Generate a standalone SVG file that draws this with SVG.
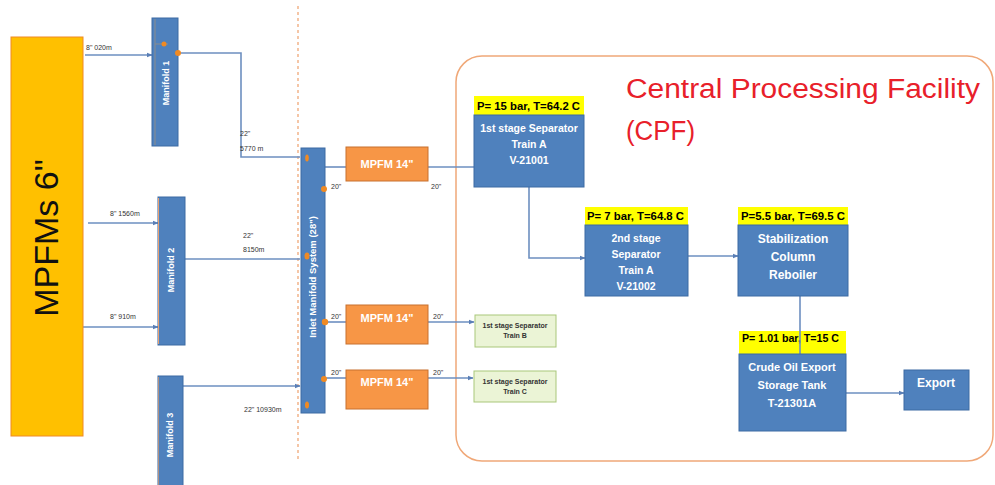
<svg xmlns="http://www.w3.org/2000/svg" width="995" height="485" viewBox="0 0 995 485">
  <defs>
    <marker id="arr" viewBox="0 0 10 10" refX="9" refY="5" markerWidth="6" markerHeight="6" orient="auto" markerUnits="userSpaceOnUse">
      <path d="M0,1 L10,5 L0,9 z" fill="#5a7fb6"/>
    </marker>
    <style>
      .pipe{stroke:#6d8fc0;stroke-width:1.6;fill:none}
      .blue{fill:#4f81bd;stroke:#3d6ba3;stroke-width:1}
      .yel{fill:#ffff00}
      .mpfm{fill:#f79646;stroke:#c8702e;stroke-width:1}
      .green{fill:#ebf4d6;stroke:#a9c77a;stroke-width:1}
      .dot{fill:#f08a24}
      .t{font-family:"Liberation Sans",Arial,sans-serif}
      .w{fill:#ffffff;font-weight:bold}
      .k{fill:#000000;font-weight:bold}
      .sm{font-size:7px;fill:#333333;font-family:"Liberation Sans",Arial,sans-serif}
      .c{text-anchor:middle}
    </style>
  </defs>

  <rect width="995" height="485" fill="#ffffff"/>

  <!-- CPF boundary and dashed divider -->
  <rect x="456" y="56" width="537" height="405" rx="26" fill="none" stroke="#f0a878" stroke-width="1.5"/>
  <line x1="298" y1="6" x2="298" y2="462" stroke="#f0a878" stroke-width="1.3" stroke-dasharray="3,3"/>
  <text class="t" x="626" y="98" font-size="27" fill="#e8202a" textLength="354" lengthAdjust="spacingAndGlyphs">Central Processing Facility</text>
  <text class="t" x="626" y="140" font-size="27" fill="#e8202a" textLength="69" lengthAdjust="spacingAndGlyphs">(CPF)</text>

  <!-- connectors -->
  <g id="connectors">
    <line class="pipe" x1="85" y1="55" x2="152" y2="55" marker-end="url(#arr)"/>
    <polyline class="pipe" points="178,53 241,53 241,157 300,157"/>
    <line class="pipe" x1="88" y1="223" x2="158" y2="223" marker-end="url(#arr)"/>
    <line class="pipe" x1="83" y1="327" x2="158" y2="327" marker-end="url(#arr)"/>
    <line class="pipe" x1="185" y1="259" x2="300" y2="259"/>
    <line class="pipe" x1="183" y1="386" x2="300" y2="386" marker-end="url(#arr)"/>
    <line class="pipe" x1="325" y1="167" x2="346" y2="167"/>
    <line class="pipe" x1="428" y1="167" x2="474" y2="167"/>
    <line class="pipe" x1="325" y1="322" x2="346" y2="322"/>
    <line class="pipe" x1="428" y1="322" x2="474" y2="322" marker-end="url(#arr)"/>
    <line class="pipe" x1="325" y1="378" x2="346" y2="378"/>
    <line class="pipe" x1="428" y1="378" x2="473" y2="378" marker-end="url(#arr)"/>
    <polyline class="pipe" points="529,187 529,258 585,258" marker-end="url(#arr)"/>
    <line class="pipe" x1="688" y1="256" x2="738" y2="256" marker-end="url(#arr)"/>
    <line class="pipe" x1="800" y1="296" x2="800" y2="354"/>
    <line class="pipe" x1="846" y1="393" x2="904" y2="393" marker-end="url(#arr)"/>

    <!-- pipe size labels -->
    <text class="sm" x="86" y="50">8"  020m</text>
    <text class="sm" x="240" y="136">22"</text>
    <text class="sm" x="240" y="151">5770 m</text>
    <text class="sm" x="110" y="216">8"  1560m</text>
    <text class="sm" x="110" y="319">8"  910m</text>
    <text class="sm" x="243" y="238">22"</text>
    <text class="sm" x="243" y="252">8150m</text>
    <text class="sm" x="244" y="412" font-size="8">22"  10930m</text>
    <text class="sm" x="331" y="189">20"</text>
    <text class="sm" x="431" y="189">20"</text>
    <text class="sm" x="331" y="319">20"</text>
    <text class="sm" x="433" y="319">20"</text>
    <text class="sm" x="331" y="375">20"</text>
    <text class="sm" x="433" y="375">20"</text>
  </g>

  <!-- wellhead meters -->
  <g id="mpfms">
    <rect x="11" y="37" width="72" height="399" fill="#ffc000" stroke="#f08a24" stroke-width="1"/>
    <text class="t c" transform="translate(58,238) rotate(-90)" font-size="34" fill="#111111">MPFMs 6"</text>
  </g>

  <g id="manifold1">
    <rect class="blue" x="152" y="18" width="26" height="128"/>
    <line x1="155" y1="19" x2="155" y2="145" stroke="#8c8c8c" stroke-width="1"/>
    <line x1="155" y1="44" x2="168" y2="44" stroke="#8c8c8c" stroke-width="1"/>
    <circle class="dot" cx="164" cy="44" r="2.5"/>
    <circle class="dot" cx="178" cy="53" r="3"/>
    <text class="t w c" transform="translate(169,83) rotate(-90)" font-size="9">Manifold 1</text>
  </g>

  <g id="manifold2">
    <rect class="blue" x="158" y="197" width="27" height="148"/>
    <line x1="158.5" y1="198" x2="158.5" y2="344" stroke="#e8a070" stroke-width="1"/>
    <text class="t w c" transform="translate(174,270) rotate(-90)" font-size="9">Manifold 2</text>
  </g>

  <g id="manifold3">
    <rect class="blue" x="158" y="376" width="25" height="112"/>
    <line x1="158.5" y1="377" x2="158.5" y2="485" stroke="#b09080" stroke-width="1"/>
    <text class="t w c" transform="translate(173,435) rotate(-90)" font-size="9">Manifold 3</text>
  </g>

  <g id="inlet-manifold">
    <rect class="blue" x="301" y="148" width="24" height="265"/>
    <ellipse class="dot" cx="307" cy="158" rx="1.8" ry="3.5"/>
    <circle class="dot" cx="324" cy="189" r="3"/>
    <ellipse class="dot" cx="307" cy="256" rx="2.5" ry="3.5"/>
    <circle class="dot" cx="325" cy="322" r="3.2"/>
    <circle class="dot" cx="324" cy="379" r="3"/>
    <ellipse class="dot" cx="307" cy="405" rx="2" ry="3.5"/>
    <text class="t w c" transform="translate(316,277) rotate(-90)" font-size="9.5">Inlet Manifold System (28")</text>
  </g>

  <g id="mpfm-14-a">
    <rect class="mpfm" x="346" y="147" width="82" height="34"/>
    <text class="t w c" x="387" y="168" font-size="11">MPFM  14"</text>
  </g>
  <g id="mpfm-14-b">
    <rect class="mpfm" x="346" y="305" width="82" height="39"/>
    <text class="t w c" x="387" y="322" font-size="11">MPFM  14"</text>
  </g>
  <g id="mpfm-14-c">
    <rect class="mpfm" x="346" y="370" width="82" height="39"/>
    <text class="t w c" x="387" y="386" font-size="11">MPFM  14"</text>
  </g>

  <g id="sep1-train-b">
    <rect class="green" x="475" y="315" width="81" height="32"/>
    <text class="t c" x="515" y="328" font-size="7" font-weight="bold" fill="#333333">1st stage Separator</text>
    <text class="t c" x="515" y="338" font-size="7" font-weight="bold" fill="#333333">Train B</text>
  </g>
  <g id="sep1-train-c">
    <rect class="green" x="474" y="371" width="82" height="31"/>
    <text class="t c" x="515" y="384" font-size="7" font-weight="bold" fill="#333333">1st stage Separator</text>
    <text class="t c" x="515" y="394" font-size="7" font-weight="bold" fill="#333333">Train C</text>
  </g>

  <g id="sep1-train-a">
    <rect class="yel" x="474" y="96" width="110" height="19"/>
    <text class="t k" x="477" y="110" font-size="10" textLength="103" lengthAdjust="spacingAndGlyphs">P= 15 bar, T=64.2 C</text>
    <rect class="blue" x="474" y="115" width="110" height="72"/>
    <text class="t w c" x="529" y="132" font-size="10.5">1st stage Separator</text>
    <text class="t w c" x="529" y="148" font-size="10.5">Train A</text>
    <text class="t w c" x="529" y="164" font-size="10.5">V-21001</text>
  </g>

  <g id="sep2-train-a">
    <rect class="yel" x="585" y="207" width="103" height="18"/>
    <text class="t k" x="587" y="220" font-size="10" textLength="97" lengthAdjust="spacingAndGlyphs">P= 7 bar, T=64.8 C</text>
    <rect class="blue" x="585" y="225" width="103" height="71"/>
    <text class="t w c" x="636" y="242" font-size="10.5">2nd stage</text>
    <text class="t w c" x="636" y="258" font-size="10.5">Separator</text>
    <text class="t w c" x="636" y="274" font-size="10.5">Train A</text>
    <text class="t w c" x="636" y="290" font-size="10.5">V-21002</text>
  </g>

  <g id="stabilization">
    <rect class="yel" x="738" y="207" width="110" height="18"/>
    <text class="t k" x="741" y="220" font-size="10" textLength="104" lengthAdjust="spacingAndGlyphs">P=5.5 bar, T=69.5 C</text>
    <rect class="blue" x="738" y="225" width="110" height="71"/>
    <text class="t w c" x="793" y="243" font-size="12">Stabilization</text>
    <text class="t w c" x="793" y="261" font-size="12">Column</text>
    <text class="t w c" x="793" y="279" font-size="12">Reboiler</text>
  </g>

  <g id="storage-tank">
    <rect class="yel" x="739" y="331" width="107" height="23"/>
    <text class="t k" x="742" y="342" font-size="10" textLength="97" lengthAdjust="spacingAndGlyphs">P= 1.01 bar, T=15 C</text>
    <line class="pipe" x1="800" y1="331" x2="800" y2="354"/>
    <rect class="blue" x="739" y="354" width="107" height="77"/>
    <text class="t w c" x="792" y="371" font-size="11">Crude Oil Export</text>
    <text class="t w c" x="792" y="389" font-size="11">Storage Tank</text>
    <text class="t w c" x="792" y="407" font-size="11">T-21301A</text>
  </g>

  <g id="export">
    <rect class="blue" x="904" y="370" width="65" height="40"/>
    <text class="t w c" x="936" y="387" font-size="12">Export</text>
  </g>
</svg>
